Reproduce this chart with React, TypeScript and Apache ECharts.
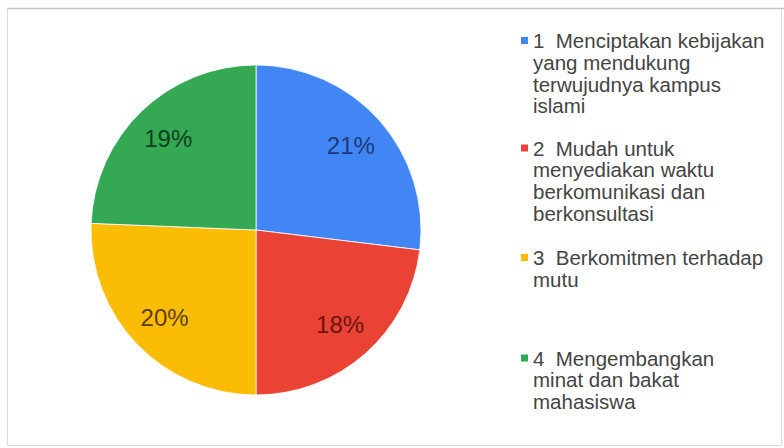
import React, { useEffect, useRef } from "react";
import * as echarts from "echarts";

const categories = [
  "1  Menciptakan kebijakan\nyang mendukung\nterwujudnya kampus\nislami",
  "2  Mudah untuk\nmenyediakan waktu\nberkomunikasi dan\nberkonsultasi",
  "3  Berkomitmen terhadap\nmutu",
  "4  Mengembangkan\nminat dan bakat\nmahasiswa",
];
const values = [21, 18, 20, 19];
const sliceColors = ["#4285f4", "#ea4335", "#fbbc04", "#34a853"];
const labelColors = ["#1a3a7c", "#6a1410", "#5e3e00", "#0f3f1d"];

// layout constants
const CENTER = [256, 230];
const RADIUS = 165;
const LH = 21.8;
const legendFirstLineY = [40.5, 148, 257.5, 358];

export default function App() {
  const ref = useRef<HTMLDivElement>(null);
  useEffect(() => {
    if (!ref.current) return;
    const chart = echarts.init(ref.current, undefined, { renderer: "svg" });
    const font = "'Liberation Sans', Arial, sans-serif";
    const legends = categories.map((name, i) => {
      return {
        data: [name],
        orient: "vertical",
        left: 516,
        top: legendFirstLineY[i] - LH / 2,
        padding: 0,
        icon: "none",
        itemWidth: 0,
        itemHeight: 0,
        selectedMode: false,
        formatter: (nm: string) =>
          nm
            .split("\n")
            .map((ln, k) => (k === 0 ? "{sq|}{g|}" + ln : "{ind|}" + ln))
            .join("\n"),
        textStyle: {
          fontFamily: font,
          fontSize: 20.5,
          lineHeight: LH,
          color: "#444444",
          rich: {
            sq: { width: 7, height: 7, backgroundColor: sliceColors[i], lineHeight: LH },
            g: { width: 5, lineHeight: LH },
            ind: { width: 12, lineHeight: LH },
          },
        },
      };
    });
    chart.setOption({
      animation: false,
      backgroundColor: "#ffffff",
      graphic: [
        {
          type: "rect",
          shape: { x: 7.5, y: 8.5, width: 774, height: 437 },
          style: { fill: "none", stroke: "#dddddd", lineWidth: 1 },
          silent: true,
        },
        {
          type: "line",
          shape: { x1: 7, y1: 8.5, x2: 784, y2: 8.5 },
          style: { stroke: "#c4c4c4", lineWidth: 1.5 },
          silent: true,
        },
      ],
      legend: legends,
      series: [
        {
          type: "pie",
          center: CENTER,
          radius: [0, RADIUS],
          startAngle: 90,
          clockwise: true,
          silent: true,
          label: { show: false },
          labelLine: { show: false },
          itemStyle: { borderColor: "#ffffff", borderWidth: 0.8 },
          data: categories.map((name, i) => ({
            name,
            value: values[i],
            itemStyle: { color: sliceColors[i] },
          })),
        },
        {
          type: "pie",
          center: CENTER,
          radius: [RADIUS * 0.5, RADIUS],
          startAngle: 90,
          clockwise: true,
          silent: true,
          itemStyle: { color: "rgba(0,0,0,0)" },
          labelLine: { show: false },
          label: {
            show: true,
            position: "inside",
            formatter: "{c}%",
            fontFamily: font,
            fontSize: 24,
          },
          data: values.map((v, i) => ({
            value: v,
            label: { color: labelColors[i] },
          })),
        },
      ],
    });
    return () => chart.dispose();
  }, []);
  return (
    <div
      ref={ref}
      style={{ position: "fixed", left: 0, top: 0, width: 784, height: 448 }}
    />
  );
}
